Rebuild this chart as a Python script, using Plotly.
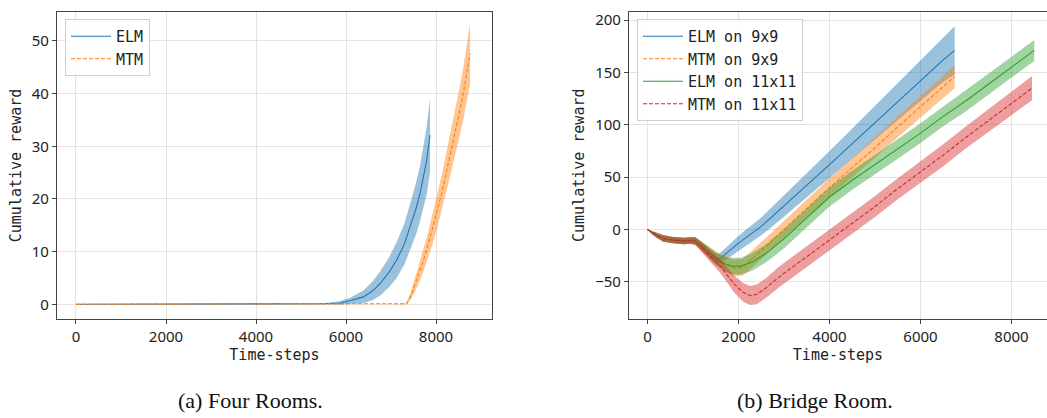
import plotly.graph_objects as go

# ---------------- (a) Four Rooms ----------------
fr_elm_t = [0, 1000, 2000, 3000, 4000, 5000, 5500, 5867, 6100, 6385, 6600, 6756, 6950, 7126, 7300, 7422, 7550, 7644, 7720, 7793, 7867]
fr_elm_v = [0, 0, 0, 0, 0, 0.05, 0.1, 0.25, 0.7, 1.4, 2.6, 3.9, 6.0, 8.4, 11.5, 14.7, 18.0, 21.0, 24.0, 27.3, 32.1]
fr_elm_s = [0, 0, 0, 0, 0, 0.05, 0.1, 0.3, 0.6, 1.2, 1.8, 2.3, 2.8, 3.4, 3.9, 4.4, 4.9, 5.3, 5.8, 6.4, 7.0]

fr_mtm_t = [0, 2000, 4000, 6000, 7000, 7348, 7450, 7570, 7680, 7793, 7900, 8015, 8130, 8237, 8350, 8459, 8530, 8607, 8680, 8756]
fr_mtm_v = [0, 0, 0, 0, 0, 0.1, 1.8, 4.6, 7.3, 10.3, 13.6, 17.2, 21.2, 25.4, 29.6, 33.7, 36.8, 40.0, 43.7, 47.6]
fr_mtm_s = [0, 0, 0, 0, 0, 0.1, 0.8, 1.5, 2.0, 2.4, 2.8, 3.1, 3.4, 3.7, 4.0, 4.3, 4.6, 5.0, 5.4, 5.8]

# ---------------- (b) Bridge Room ----------------
br_elm9_t = [0, 100, 200, 350, 570, 800, 950, 1050, 1200, 1400, 1550, 1700, 2000, 2500, 2900, 3500, 4000, 4500, 5000, 5500, 6000, 6500, 6750]
br_elm9_v = [0, -3, -5.5, -8.6, -10.2, -11, -10.5, -11, -16, -24, -29, -24, -13, 3, 18.5, 42, 62, 82, 102, 122, 142, 162, 171]
br_elm9_s = [0, 1.5, 2.5, 3, 3, 3, 3, 3.5, 4, 4.5, 5, 5.5, 7, 8.5, 10, 11.5, 13, 14.5, 16, 17.5, 19, 21, 23]

br_mtm9_t = [0, 100, 200, 350, 570, 800, 950, 1050, 1300, 1600, 1900, 2100, 2500, 3000, 3500, 4000, 4500, 5000, 5500, 6000, 6500, 6750]
br_mtm9_v = [0, -3, -5.5, -8.6, -10.2, -11, -10.5, -11, -20, -30, -37, -36, -20, 0, 20, 40, 59, 78, 98, 117, 136, 146]
br_mtm9_s = [0, 1.5, 2.5, 3, 3, 3, 3, 3.5, 5, 6.5, 8, 8, 8, 8.5, 8.5, 9, 9, 9.5, 10, 10, 10.5, 11]

br_elm11_t = [0, 100, 200, 350, 570, 800, 950, 1050, 1300, 1500, 1700, 1850, 2050, 2300, 2600, 3000, 3500, 4000, 4500, 5000, 5500, 6000, 6500, 7000, 7500, 8000, 8500]
br_elm11_v = [0, -3, -5.5, -8.6, -10.2, -11, -10.5, -11, -20, -28, -33, -35, -35, -31, -23, -9, 11, 31, 47, 62, 77, 92, 108, 123, 139, 155, 171]
br_elm11_s = [0, 1.5, 2.5, 3, 3, 3, 3, 3.5, 5, 6, 7, 8, 8, 8.5, 8.5, 9, 9, 9, 9, 9, 9.5, 9.5, 9.5, 10, 10, 10, 10]

br_mtm11_t = [0, 100, 200, 350, 570, 800, 950, 1050, 1300, 1600, 1900, 2100, 2250, 2400, 2600, 2900, 3500, 4000, 4500, 5000, 5500, 6000, 6500, 7000, 7500, 8000, 8450]
br_mtm11_v = [0, -3, -5.5, -8.6, -10.2, -11, -10.5, -11, -22, -35, -52, -60, -63, -62, -56, -45, -26, -10, 6, 22, 39, 55, 71, 88, 104, 120, 135]
br_mtm11_s = [0, 1.5, 2.5, 3, 3, 3, 3, 3.5, 5, 6.5, 8, 9, 9, 9.5, 9.5, 10, 10, 10, 10, 10, 10, 10, 10.5, 10.5, 11, 11, 11.5]

x_ticks_a = [0, 2000, 4000, 6000, 8000]
y_ticks_a = [0, 10, 20, 30, 40, 50]
x_ticks_b = [0, 2000, 4000, 6000, 8000]
y_ticks_b = [-50, 0, 50, 100, 150, 200]

BLUE = "#1f77b4"
ORANGE = "#ff7f0e"
GREEN = "#2ca02c"
RED = "#d62728"
DASH = "4px,2px"


def rgba(hexc, a):
    h = hexc.lstrip("#")
    r, g, b = int(h[0:2], 16), int(h[2:4], 16), int(h[4:6], 16)
    return f"rgba({r},{g},{b},{a})"


fig = go.Figure()


def add_series(t, v, s, color, dash, name, xa, ya, legend, alpha=0.45):
    upper = [a + b for a, b in zip(v, s)]
    lower = [a - b for a, b in zip(v, s)]
    fig.add_trace(go.Scatter(
        x=list(t) + list(t)[::-1], y=upper + lower[::-1],
        fill="toself", fillcolor=rgba(color, alpha), line=dict(width=0),
        mode="lines", showlegend=False, hoverinfo="skip", xaxis=xa, yaxis=ya))
    fig.add_trace(go.Scatter(
        x=t, y=v, mode="lines", name=name,
        line=dict(color=color, width=1.1, dash=dash),
        xaxis=xa, yaxis=ya, legend=legend))


add_series(fr_elm_t, fr_elm_v, fr_elm_s, BLUE, "solid", "ELM", "x", "y", "legend")
add_series(fr_mtm_t, fr_mtm_v, fr_mtm_s, ORANGE, DASH, "MTM", "x", "y", "legend")

add_series(br_elm9_t, br_elm9_v, br_elm9_s, BLUE, "solid", "ELM on 9x9", "x2", "y2", "legend2")
add_series(br_mtm9_t, br_mtm9_v, br_mtm9_s, ORANGE, DASH, "MTM on 9x9", "x2", "y2", "legend2")
add_series(br_elm11_t, br_elm11_v, br_elm11_s, GREEN, "solid", "ELM on 11x11", "x2", "y2", "legend2")
add_series(br_mtm11_t, br_mtm11_v, br_mtm11_s, RED, DASH, "MTM on 11x11", "x2", "y2", "legend2")

W, H = 1047, 418
TICKFONT = dict(family="Noto Sans", size=15, color="#222")
MONO = dict(family="DejaVu Sans Mono", size=15, color="#222")

axis_common = dict(
    showgrid=True, gridcolor="#e3e3e3", gridwidth=1,
    zeroline=False, showline=True, linecolor="#444", linewidth=1.2,
    ticks="outside", ticklen=4, tickcolor="#444", tickwidth=1,
    tickfont=TICKFONT, automargin=False,
)

fig.update_layout(
    width=W, height=H,
    margin=dict(l=0, r=0, t=0, b=0, autoexpand=False),
    paper_bgcolor="white", plot_bgcolor="white",
    xaxis=dict(domain=[57 / W, 492 / W], range=[-422, 9244], tickvals=x_ticks_a,
               anchor="y", mirror=True,
               title=dict(text="Time-steps", font=MONO, standoff=4), **axis_common),
    yaxis=dict(domain=[1 - 319 / H, 1 - 12 / H], range=[-2.8, 55.5], tickvals=y_ticks_a,
               anchor="x", mirror=True,
               title=dict(text="Cumulative reward", font=MONO, standoff=6), **axis_common),
    xaxis2=dict(domain=[629 / W, 1.0], range=[-407, 8780], tickvals=x_ticks_b,
                anchor="y2", mirror=True,
                title=dict(text="Time-steps", font=MONO, standoff=4), **axis_common),
    yaxis2=dict(domain=[1 - 318.5 / H, 1 - 12 / H], range=[-85, 207.7], tickvals=y_ticks_b,
                anchor="x2", mirror=False,
                title=dict(text="Cumulative reward", font=MONO, standoff=6), **axis_common),
    legend=dict(x=65 / W, y=1 - 19 / H, xanchor="left", yanchor="top",
                font=MONO, bgcolor="rgba(255,255,255,0.85)", bordercolor="#d0d0d0",
                borderwidth=1, itemwidth=40, tracegroupgap=0),
    legend2=dict(x=637 / W, y=1 - 19 / H, xanchor="left", yanchor="top",
                 font=MONO, bgcolor="rgba(255,255,255,0.85)", bordercolor="#d0d0d0",
                 borderwidth=1, itemwidth=40, tracegroupgap=0),
    showlegend=True,
)

CAPFONT = dict(family="Liberation Serif", size=22, color="#111")
fig.add_annotation(text="(a) Four Rooms.", x=250 / W, y=1 - 400 / H, xref="paper", yref="paper",
                   showarrow=False, font=CAPFONT, xanchor="center", yanchor="middle")
fig.add_annotation(text="(b) Bridge Room.", x=815 / W, y=1 - 400 / H, xref="paper", yref="paper",
                   showarrow=False, font=CAPFONT, xanchor="center", yanchor="middle")

fig.write_html("out.html", config={"displayModeBar": False},
               post_script="document.body.style.margin='0px';")
